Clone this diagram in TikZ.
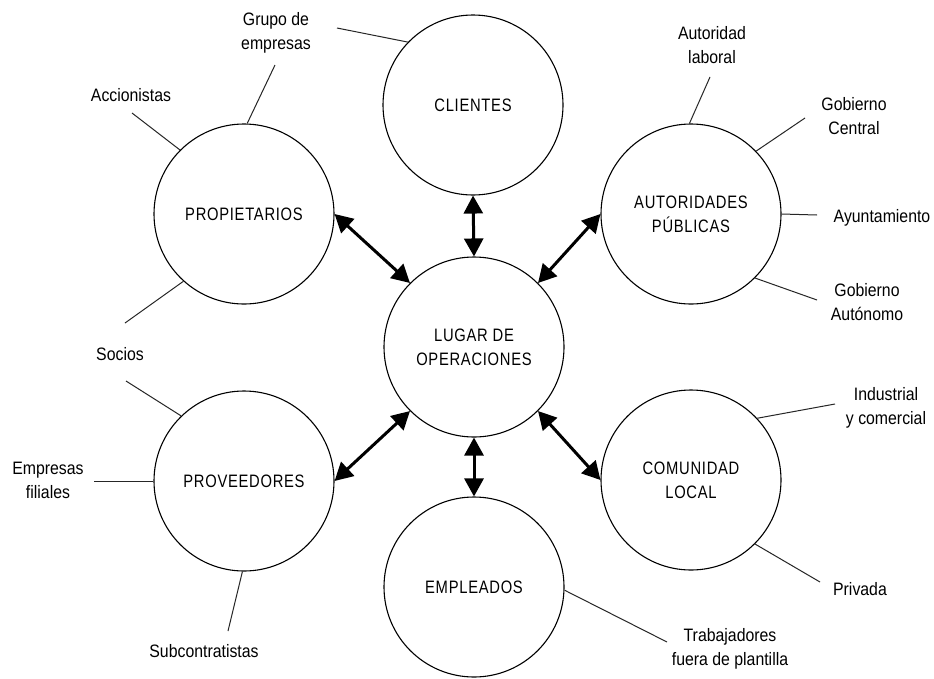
\documentclass[tikz,border=0pt]{standalone}
\usepackage{fontspec}
\setmainfont{Liberation Sans}[FakeStretch=0.88]
\newfontfamily\capsfont{Liberation Sans}[FakeStretch=0.82,LetterSpace=4]
\usetikzlibrary{arrows.meta}
\begin{document}
\begin{tikzpicture}[x=1pt,y=-1pt,
  party/.style={circle,draw=black,line width=1.1pt,minimum size=180pt,inner sep=0pt,
    align=center,font=\capsfont\fontsize{18}{24}\selectfont},
  lbl/.style={align=center,inner sep=0pt,font=\fontsize{18}{24}\selectfont},
  tie/.style={draw=black!85,line width=1pt},
  bigarrow/.style={line width=3pt,{Triangle[length=18pt,width=19pt]}-{Triangle[length=18pt,width=19pt]}}]
\useasboundingbox (0,0) rectangle (934,678);
\fill[white] (0,0) rectangle (934,678);
% circles
\node[party] (cli) at (473,105) {CLIENTES};
\node[party] (lug) at (474,347) {LUGAR DE\\OPERACIONES};
\node[party] (pro) at (244,214) {PROPIETARIOS};
\node[party] (aut) at (691,214) {AUTORIDADES\\PÚBLICAS};
\node[party] (prv) at (244,481) {PROVEEDORES};
\node[party] (com) at (691,480) {COMUNIDAD\\LOCAL};
\node[party] (emp) at (474,587) {EMPLEADOS};
% arrows
\draw[bigarrow] (cli.south) -- (lug.north);
\draw[bigarrow] (lug.south) -- (emp.north);
\draw[bigarrow] (pro.east) -- (lug.north west);
\draw[bigarrow] (aut.west) -- (lug.north east);
\draw[bigarrow] (prv.east) -- (lug.south west);
\draw[bigarrow] (com.west) -- (lug.south east);
% labels
\node[lbl] (l1) at (276,33) {Grupo de\\empresas};
\node[lbl] (l2) at (131,95) {Accionistas};
\node[lbl] (l3) at (120,354) {Socios};
\node[lbl] (l4) at (48,480) {Empresas\\filiales};
\node[lbl] (l5) at (204,651) {Subcontratistas};
\node[lbl] (l6) at (712,45) {Autoridad\\laboral};
\node[lbl] (l7) at (854,116) {Gobierno\\Central};
\node[lbl] (l8) at (882,218) {Ayuntamiento};
\node[lbl] (l9) at (867,302) {Gobierno\\Autónomo};
\node[lbl] (l10) at (886,408) {Industrial\\y comercial};
\node[lbl] (l11) at (860,589) {Privada};
\node[lbl] (l12) at (730,649) {Trabajadores\\fuera de plantilla};
% free ends of the ties
\coordinate (e1) at (337,28);
\coordinate (e2) at (275,65);
\coordinate (e3) at (132,113);
\coordinate (e4) at (125,323);
\coordinate (e5) at (126,381);
\coordinate (e6) at (94,481);
\coordinate (e7) at (228,631);
\coordinate (e8) at (710,77);
\coordinate (e9) at (805,118);
\coordinate (e10) at (817,215);
\coordinate (e11) at (817,300);
\coordinate (e12) at (835,404);
\coordinate (e13) at (820,582);
\coordinate (e14) at (667,642);
% ties
\draw[tie] (cli.136) -- (e1);
\draw[tie] (pro.88) -- (e2);
\draw[tie] (pro.135) -- (e3);
\draw[tie] (pro.228) -- (e4);
\draw[tie] (prv.134) -- (e5);
\draw[tie] (prv.west) -- (e6);
\draw[tie] (prv.269) -- (e7);
\draw[tie] (aut.91) -- (e8);
\draw[tie] (aut.44) -- (e9);
\draw[tie] (aut.east) -- (e10);
\draw[tie] (aut.-45) -- (e11);
\draw[tie] (com.43) -- (e12);
\draw[tie] (com.-45) -- (e13);
\draw[tie] (emp.-2.5) -- (e14);
\end{tikzpicture}
\end{document}
